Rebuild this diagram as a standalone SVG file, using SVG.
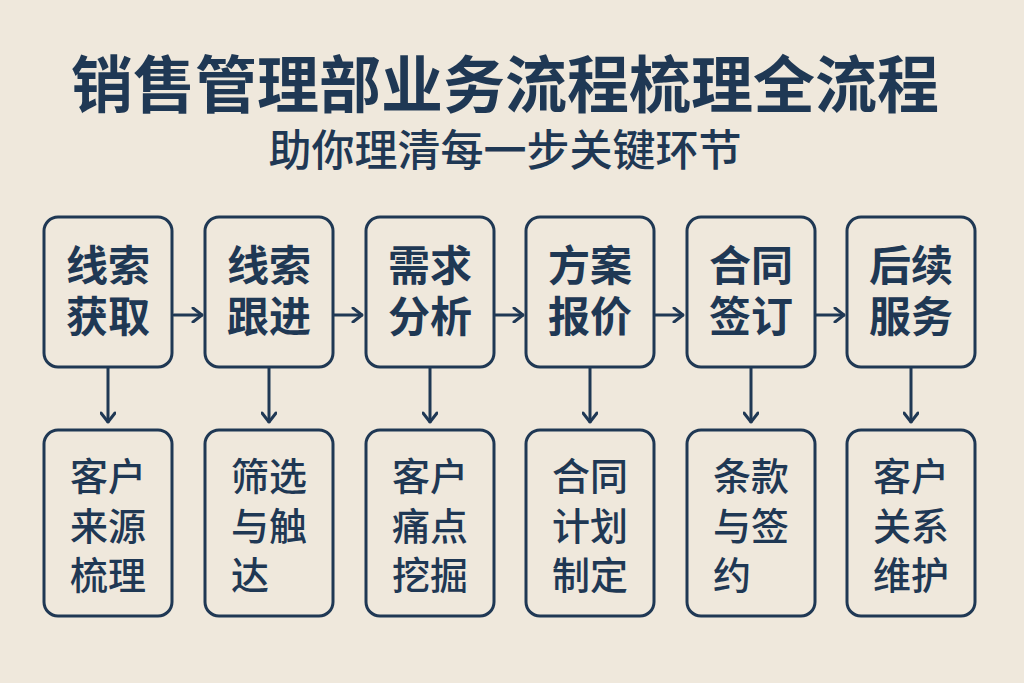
<svg xmlns="http://www.w3.org/2000/svg" width="1024" height="683" viewBox="0 0 1024 683">
<style>
.bg{fill:#efe8dc}
.box{fill:none;stroke:#1f3854;stroke-width:3}
.t{font-family:"Liberation Sans","Noto Sans CJK SC",sans-serif;fill:#1f3854}
.title{font-size:62px;font-weight:700;text-anchor:middle}
.sub{font-size:43px;font-weight:500;text-anchor:middle}
.top{font-size:42px;font-weight:700;text-anchor:middle}
.bot{font-size:38px;font-weight:500}
.ln{fill:none;stroke:#1f3854;stroke-width:3;stroke-linecap:round;stroke-linejoin:round}
</style>
<defs>
<marker id="ah" viewBox="0 0 12 16" refX="11" refY="8" markerWidth="12" markerHeight="16" markerUnits="userSpaceOnUse" orient="auto">
<polyline points="2,1 11,8 2,15" fill="none" stroke="#1f3854" stroke-width="3" stroke-linecap="round" stroke-linejoin="round"/>
</marker>
</defs>
<rect class="bg" x="0" y="0" width="1024" height="683"/>
<text class="t title" x="505" y="108">销售管理部业务流程梳理全流程</text>
<text class="t sub" x="505" y="166">助你理清每一步关键环节</text>

<g id="connectors">
<line class="ln" x1="174" y1="315" x2="202" y2="315" marker-end="url(#ah)"/>
<line class="ln" x1="334" y1="315" x2="362" y2="315" marker-end="url(#ah)"/>
<line class="ln" x1="495" y1="315" x2="523" y2="315" marker-end="url(#ah)"/>
<line class="ln" x1="655" y1="315" x2="683" y2="315" marker-end="url(#ah)"/>
<line class="ln" x1="816" y1="315" x2="844" y2="315" marker-end="url(#ah)"/>
<line class="ln" x1="108" y1="368" x2="108" y2="422" marker-end="url(#ah)"/>
<line class="ln" x1="269" y1="368" x2="269" y2="422" marker-end="url(#ah)"/>
<line class="ln" x1="430" y1="368" x2="430" y2="422" marker-end="url(#ah)"/>
<line class="ln" x1="590" y1="368" x2="590" y2="422" marker-end="url(#ah)"/>
<line class="ln" x1="751" y1="368" x2="751" y2="422" marker-end="url(#ah)"/>
<line class="ln" x1="911" y1="368" x2="911" y2="422" marker-end="url(#ah)"/>
</g>

<g id="n1"><rect class="box" x="44" y="217" width="128" height="150" rx="14"/>
<text class="t top"><tspan x="108" y="281">线索</tspan><tspan x="108" y="332">获取</tspan></text></g>
<g id="n2"><rect class="box" x="205" y="217" width="128" height="150" rx="14"/>
<text class="t top"><tspan x="269" y="281">线索</tspan><tspan x="269" y="332">跟进</tspan></text></g>
<g id="n3"><rect class="box" x="366" y="217" width="128" height="150" rx="14"/>
<text class="t top"><tspan x="430" y="281">需求</tspan><tspan x="430" y="332">分析</tspan></text></g>
<g id="n4"><rect class="box" x="526" y="217" width="128" height="150" rx="14"/>
<text class="t top"><tspan x="590" y="281">方案</tspan><tspan x="590" y="332">报价</tspan></text></g>
<g id="n5"><rect class="box" x="687" y="217" width="128" height="150" rx="14"/>
<text class="t top"><tspan x="751" y="281">合同</tspan><tspan x="751" y="332">签订</tspan></text></g>
<g id="n6"><rect class="box" x="847" y="217" width="128" height="150" rx="14"/>
<text class="t top"><tspan x="911" y="281">后续</tspan><tspan x="911" y="332">服务</tspan></text></g>

<g id="d1"><rect class="box" x="44" y="430" width="128" height="186" rx="14"/>
<text class="t bot"><tspan x="70" y="490">客户</tspan><tspan x="70" y="540">来源</tspan><tspan x="70" y="589">梳理</tspan></text></g>
<g id="d2"><rect class="box" x="205" y="430" width="128" height="186" rx="14"/>
<text class="t bot"><tspan x="231" y="490">筛选</tspan><tspan x="231" y="540">与触</tspan><tspan x="231" y="589">达</tspan></text></g>
<g id="d3"><rect class="box" x="366" y="430" width="128" height="186" rx="14"/>
<text class="t bot"><tspan x="392" y="490">客户</tspan><tspan x="392" y="540">痛点</tspan><tspan x="392" y="589">挖掘</tspan></text></g>
<g id="d4"><rect class="box" x="526" y="430" width="128" height="186" rx="14"/>
<text class="t bot"><tspan x="552" y="490">合同</tspan><tspan x="552" y="540">计划</tspan><tspan x="552" y="589">制定</tspan></text></g>
<g id="d5"><rect class="box" x="687" y="430" width="128" height="186" rx="14"/>
<text class="t bot"><tspan x="713" y="490">条款</tspan><tspan x="713" y="540">与签</tspan><tspan x="713" y="589">约</tspan></text></g>
<g id="d6"><rect class="box" x="847" y="430" width="128" height="186" rx="14"/>
<text class="t bot"><tspan x="873" y="490">客户</tspan><tspan x="873" y="540">关系</tspan><tspan x="873" y="589">维护</tspan></text></g>
</svg>
